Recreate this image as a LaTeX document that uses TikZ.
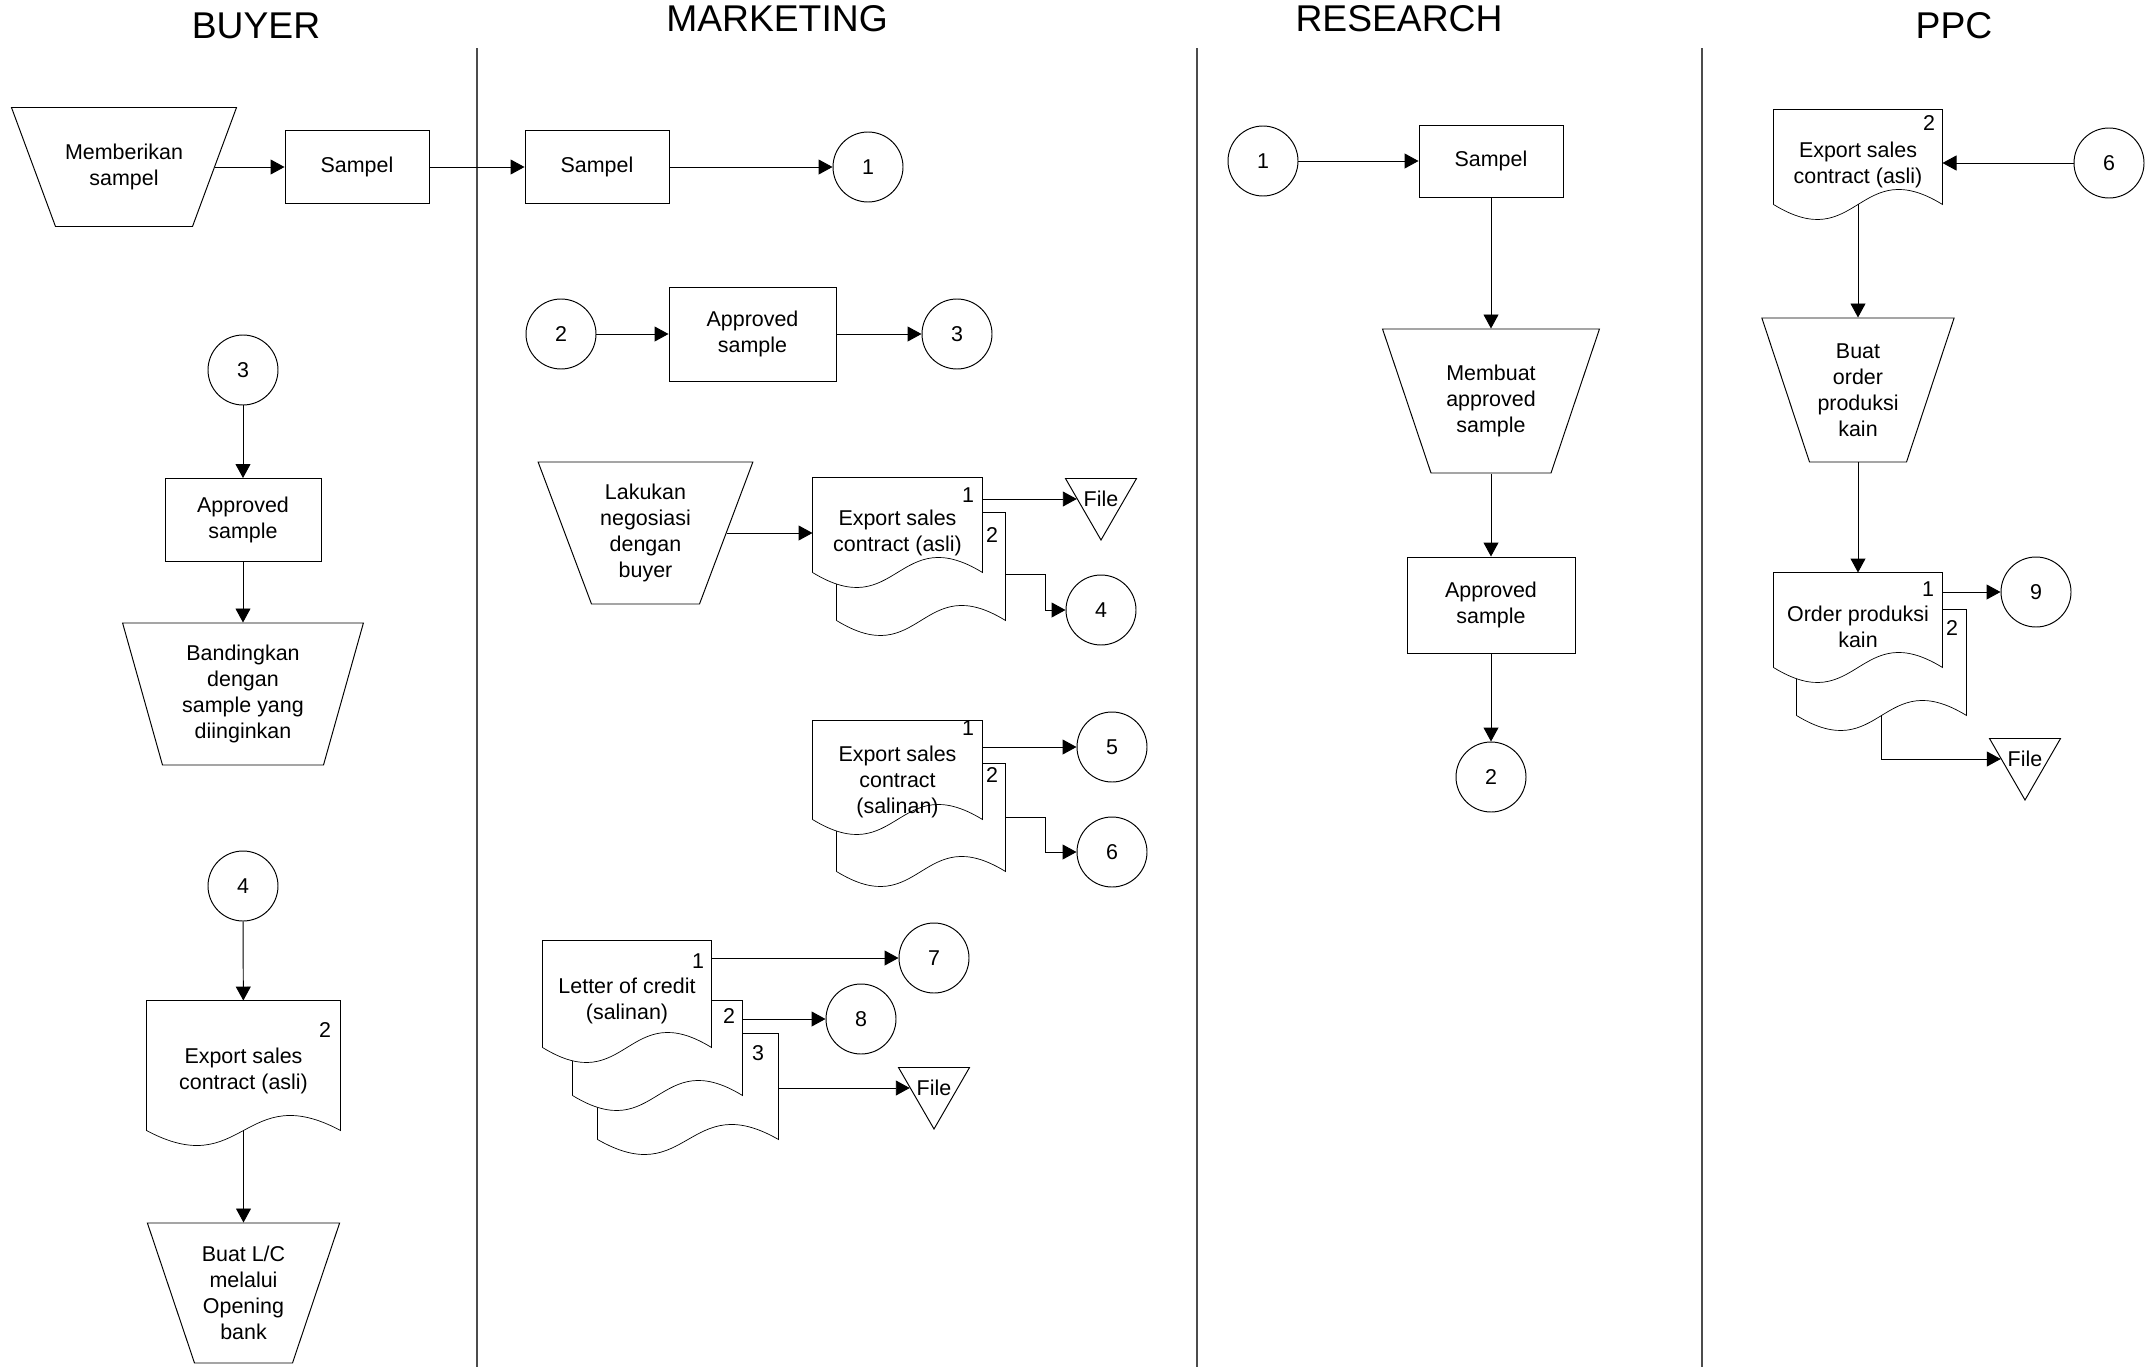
\documentclass[tikz,border=0pt]{standalone}
\usepackage{fontspec}
\setmainfont{Liberation Sans}
\usepackage{tikz}
\usetikzlibrary{shapes.geometric,arrows.meta,positioning,calc,backgrounds}

% outline of a document sheet with a wavy bottom, drawn behind the node text
\newcommand{\docshape}[1]{%
  \begin{scope}[on background layer]
    \filldraw[fill=white] (#1.north west) -- (#1.south west)
      .. controls ($(#1.south)+(0,52)$) and ($(#1.south)+(0,-52)$) .. (#1.south east)
      -- (#1.north east) -- cycle;
  \end{scope}}

\begin{document}
\begin{tikzpicture}[
        x=0.2mm, y=-0.2mm, line width=0.55pt,
        font=\fontsize{12.2}{14.8}\selectfont,
        lanetitle/.style={font=\fontsize{21.2}{25}\selectfont, anchor=base, inner sep=0pt},
        lane/.style={draw=black!70, line width=0.9pt},
        box/.style={rectangle, draw, align=center, inner sep=1mm},
        manual/.style={trapezium, draw, shape border rotate=180, inner sep=0pt},
        mtext/.style={align=center, inner sep=0pt},
        doc/.style={rectangle, inner sep=0pt},
        dtext/.style={align=center, inner sep=0pt, yshift=-1.6mm},
        num/.style={inner sep=0pt},
        circ/.style={circle, draw, minimum size=14mm, inner sep=0pt},
        store/.style={regular polygon, regular polygon sides=3, regular polygon rotate=180, draw, minimum size=16.4mm, inner sep=0pt},
        arrow/.style={-{Triangle[length=2.8mm,width=3mm]}}
    ]
        \useasboundingbox (0,0) rectangle (2150,1367);

        % lanes
        \draw[lane] (477,48) -- (477,1367);
        \draw[lane] (1197,48) -- (1197,1367);
        \draw[lane] (1702,48) -- (1702,1367);
        \node[lanetitle] (tbuyer) at (256,38) {BUYER};
        \node[lanetitle] (tmkt) at (777,31) {MARKETING};
        \node[lanetitle] (tres) at (1399,31) {RESEARCH};
        \node[lanetitle] (tppc) at (1954,38) {PPC};

        % BUYER
        \node[manual, inner xsep=13.7mm, inner ysep=11.9mm, trapezium angle=69.7,
              label={[mtext]center:Memberikan\\sampel}] (beri) at (124,167) {};
        \node[box, minimum width=28.8mm, minimum height=14.6mm] (bsampel) at (357,167) {Sampel};
        \node[circ] (b3) at (243,370) {3};
        \node[box, minimum width=31.2mm, minimum height=16.6mm] (bappr) at (243,520) {Approved\\sample};
        \node[manual, inner xsep=16.1mm, inner ysep=14.2mm, trapezium angle=74.3,
              label={[mtext]center:Bandingkan\\dengan\\sample yang\\diinginkan}] (banding) at (243,694) {};
        \node[circ] (b4) at (243,886) {4};
        \node[doc, minimum width=38.6mm, minimum height=25.8mm,
              label={[dtext, yshift=0.5mm]center:Export sales\\contract (asli)}] (besc) at (243.5,1065.5) {};
        \node[num] (besc-n) at (325,1030) {2};
        \node[manual, inner xsep=9.8mm, inner ysep=14mm, trapezium angle=71.4,
              label={[mtext]center:Buat L/C\\melalui\\Opening\\bank}] (buatlc) at (243.5,1293) {};

        % MARKETING
        \node[box, minimum width=28.8mm, minimum height=14.6mm] (msampel) at (597,167) {Sampel};
        \node[circ] (m1) at (868,167) {1};
        \node[circ] (m2) at (561,334) {2};
        \node[box, minimum width=33.4mm, minimum height=18.8mm] (mappr) at (752.5,334) {Approved\\sample};
        \node[circ] (m3) at (957,334) {3};
        \node[manual, inner xsep=10.8mm, inner ysep=14.2mm, trapezium angle=69.4,
              label={[mtext]center:Lakukan\\negosiasi\\dengan\\buyer}] (nego) at (645.5,533) {};

        \node[doc, minimum width=33.6mm, minimum height=21.4mm] (esca2) at (921,566.5) {};
        \node[doc, minimum width=33.8mm, minimum height=18.8mm,
              label={[dtext]center:Export sales\\contract (asli)}] (esca1) at (897.5,525) {};
        \node[num] (esca1-n) at (968,495) {1};
        \node[num] (esca2-n) at (992,535) {2};
        \node[store, label=center:File] (filea) at (1101,499) {};
        \node[circ] (m4) at (1101,610) {4};

        \node[doc, minimum width=33.6mm, minimum height=21.4mm] (escs2) at (921,817.5) {};
        \node[doc, minimum width=33.8mm, minimum height=19.6mm,
              label={[dtext, yshift=-0.8mm]center:Export sales\\contract\\(salinan)}] (escs1) at (897.5,770) {};
        \node[num] (escs1-n) at (968,728) {1};
        \node[num] (escs2-n) at (992,775) {2};
        \node[circ] (m5) at (1112,747) {5};
        \node[circ] (m6) at (1112,852) {6};

        \node[doc, minimum width=36mm, minimum height=21mm] (lc3) at (688,1086.5) {};
        \node[doc, minimum width=33.8mm, minimum height=18.8mm] (lc2) at (657.5,1048) {};
        \node[doc, minimum width=33.6mm, minimum height=21.2mm,
              label={[dtext, yshift=0.2mm]center:Letter of credit\\(salinan)}] (lc1) at (627,994) {};
        \node[num] (lc1-n) at (698,961) {1};
        \node[num] (lc2-n) at (729,1016) {2};
        \node[num] (lc3-n) at (758,1053) {3};
        \node[circ] (m7) at (934,958) {7};
        \node[circ] (m8) at (861,1019) {8};
        \node[store, label=center:File] (fileb) at (934,1088) {};

        % RESEARCH
        \node[circ] (r1) at (1263,161) {1};
        \node[box, minimum width=28.8mm, minimum height=14.4mm] (rsampel) at (1491,161) {Sampel};
        \node[manual, inner xsep=12mm, inner ysep=14.4mm, trapezium angle=71.4,
              label={[mtext]center:Membuat\\approved\\sample}] (rbuat) at (1491,401) {};
        \node[box, minimum width=33.6mm, minimum height=19.2mm] (rappr) at (1491,605) {Approved\\sample};
        \node[circ] (r2) at (1491,777) {2};

        % PPC
        \node[doc, minimum width=33.6mm, minimum height=18.8mm,
              label={[dtext]center:Export sales\\contract (asli)}] (pesc) at (1858,157) {};
        \node[num] (pesc-n) at (1929,123) {2};
        \node[circ] (p6) at (2109,163) {6};
        \node[manual, inner xsep=9.7mm, inner ysep=14.4mm, trapezium angle=71.7,
              label={[mtext]center:Buat\\order\\produksi\\kain}] (pbuat) at (1858,390) {};
        \node[doc, minimum width=33.8mm, minimum height=21mm] (pord2) at (1881.5,662.5) {};
        \node[doc, minimum width=33.6mm, minimum height=18.8mm,
              label={[dtext, yshift=0.2mm]center:Order produksi\\kain}] (pord1) at (1858,620) {};
        \node[num] (pord1-n) at (1928,589) {1};
        \node[num] (pord2-n) at (1952,628) {2};
        \node[circ] (p9) at (2036,592) {9};
        \node[store, label=center:File] (filec) at (2025,759) {};

        % sheets, back copies first
        \docshape{besc}
        \docshape{esca2}\docshape{esca1}
        \docshape{escs2}\docshape{escs1}
        \docshape{lc3}\docshape{lc2}\docshape{lc1}
        \docshape{pesc}
        \docshape{pord2}\docshape{pord1}

        \draw[arrow] (beri) -- (bsampel);
        \draw[arrow] (bsampel) -- (msampel);
        \draw[arrow] (msampel) -- (m1);
        \draw[arrow] (b3) -- (bappr);
        \draw[arrow] (bappr) -- (banding);
        \draw[arrow] (b4) -- (besc);
        \draw[arrow] (besc.south) -- (buatlc);
        \draw[arrow] (m2) -- (mappr);
        \draw[arrow] (mappr) -- (m3);
        \draw[arrow] (nego) -- (nego -| esca1.west);
        \draw[arrow] (esca1.east |- filea) -- (filea);
        \draw[arrow] ([yshift=-1.5mm]esca2.east) -- ++(40,0) |- (m4);
        \draw[arrow] (escs1.east |- m5) -- (m5);
        \draw[arrow] (escs2.east) -- ++(40,0) |- (m6);
        \draw[arrow] (lc1.east |- m7) -- (m7);
        \draw[arrow] (lc2.east |- m8) -- (m8);
        \draw[arrow] (lc3.east |- fileb) -- (fileb);
        \draw[arrow] (r1) -- (rsampel);
        \draw[arrow] (rsampel) -- (rbuat);
        \draw[arrow] (rbuat) -- (rappr);
        \draw[arrow] (rappr) -- (r2);
        \draw[arrow] (p6) -- (p6 -| pesc.east);
        \draw[arrow] (pesc.south) -- (pbuat);
        \draw[arrow] (pbuat) -- (pord1);
        \draw[arrow] (pord1.east |- p9) -- (p9);
        \draw[arrow] (pord2.south) |- (filec);
    \end{tikzpicture}
\end{document}
